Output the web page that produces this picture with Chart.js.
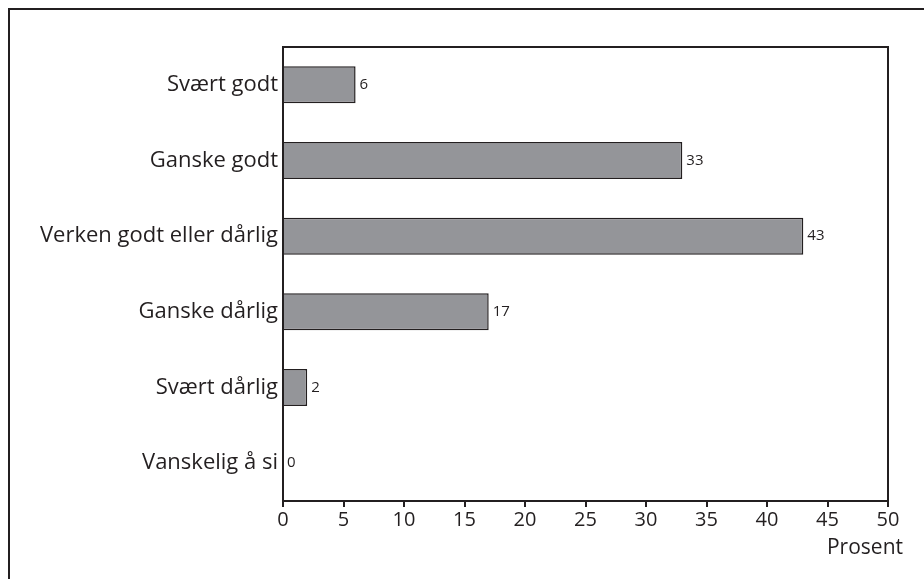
<!DOCTYPE html>
<html lang="no">
<head>
  <meta charset="UTF-8">
  <title>Prosent</title>
  <script src="https://cdn.jsdelivr.net/npm/chart.js"></script>
  <style>
    body {
      margin: 0;
      background: #fff;
      width: 924px;
      height: 579px;
      overflow: hidden;
      position: relative;
    }
    .frame {
      position: absolute;
      left: 8px;
      top: 8px;
      width: 940px;
      height: 600px;
      border-left: 2px solid #231f20;
      border-top: 2px solid #231f20;
    }
    #wrap {
      position: absolute;
      left: 0;
      top: 0;
      width: 924px;
      height: 579px;
    }
  </style>
</head>
<body>
  <div class="frame"></div>
  <div id="wrap"><canvas id="chart" width="924" height="579"></canvas></div>

  <script>
    // ---------------- data ---------------- //
    const categories = ['Svært godt', 'Ganske godt', 'Verken godt eller dårlig', 'Ganske dårlig', 'Svært dårlig', 'Vanskelig å si'];
    const values = [6, 33, 43, 17, 2, 0];
    const xTicks = [0, 5, 10, 15, 20, 25, 30, 35, 40, 45, 50];
    const axisTitle = 'Prosent';

    const ink = '#231f20';
    const font = '"Open Sans", "DejaVu Sans", sans-serif';

    // box around the plot area + value labels + axis title
    const extras = {
      id: 'extras',
      afterDatasetsDraw(chart) {
        const { ctx, chartArea } = chart;
        ctx.save();
        ctx.strokeStyle = ink;
        ctx.lineWidth = 2;
        ctx.strokeRect(chartArea.left, chartArea.top, chartArea.right - chartArea.left, chartArea.bottom - chartArea.top);

        ctx.fillStyle = ink;
        ctx.font = '15px ' + font;
        ctx.textBaseline = 'middle';
        chart.getDatasetMeta(0).data.forEach((bar, i) => {
          ctx.fillText(values[i], bar.x + 4, bar.y);
        });

        ctx.font = '21px ' + font;
        ctx.textAlign = 'right';
        ctx.fillText(axisTitle, chartArea.right + 15, chartArea.bottom + 47);
        ctx.restore();
      }
    };

    new Chart(document.getElementById('chart'), {
      type: 'bar',
      data: {
        labels: categories,
        datasets: [{
          data: values,
          backgroundColor: '#949599',
          borderColor: ink,
          borderWidth: 1.5,
          categoryPercentage: 1,
          barPercentage: 0.49
        }]
      },
      options: {
        indexAxis: 'y',
        responsive: false,
        animation: false,
        devicePixelRatio: 1,
        layout: { padding: { top: 47, right: 36, left: 0, bottom: 0 } },
        plugins: {
          legend: { display: false },
          tooltip: { enabled: false }
        },
        scales: {
          x: {
            min: 0,
            max: 50,
            afterBuildTicks(scale) {
              scale.ticks = xTicks.map(v => ({ value: v }));
            },
            afterFit(scale) { scale.height = 78; },
            grid: {
              drawOnChartArea: false,
              color: ink,
              lineWidth: 2,
              tickLength: 6
            },
            border: { display: false },
            ticks: {
              color: ink,
              font: { family: font, size: 20 },
              padding: 1,
              maxRotation: 0
            }
          },
          y: {
            afterFit(scale) { scale.width = 283; },
            grid: { display: false, drawTicks: false },
            border: { display: false },
            ticks: {
              color: ink,
              font: { family: font, size: 22 },
              padding: 5
            }
          }
        }
      },
      plugins: [extras]
    });
  </script>
</body>
</html>
